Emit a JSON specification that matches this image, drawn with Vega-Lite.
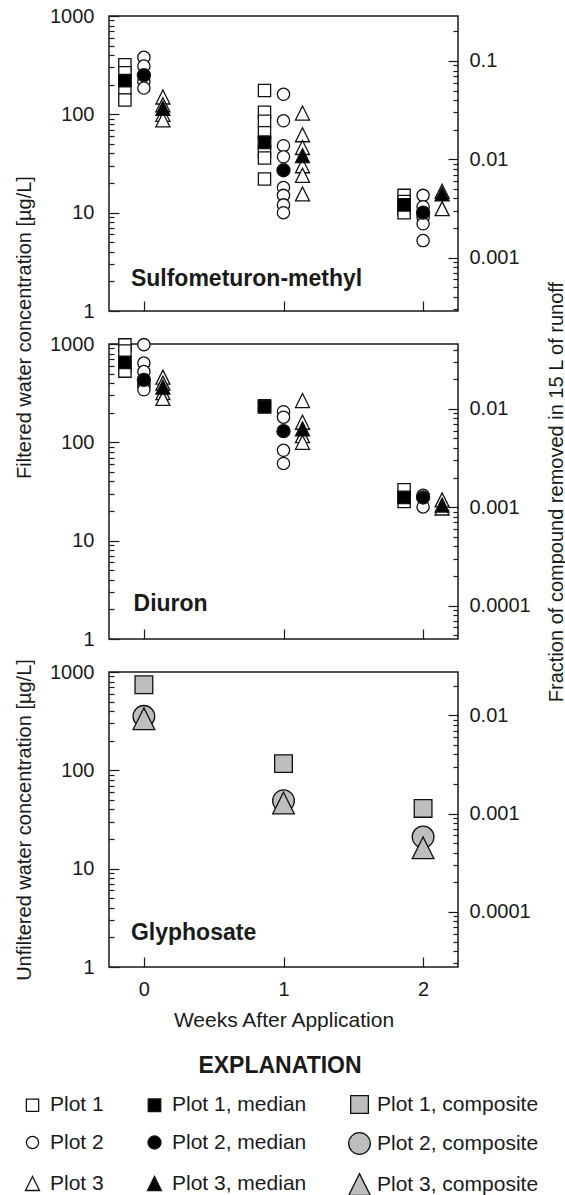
{
  "$schema": "https://vega.github.io/schema/vega-lite/v6.json",
  "autosize": {"type": "pad"},
  "padding": {"left": 13, "top": 5, "right": 0, "bottom": 0},
  "background": "white",
  "spacing": 33,
  "bounds": "flush",
  "datasets": {
    "pts": [
      {"compound": "S", "week": 0, "plot": "Plot 1", "series": "Plot 1", "conc": 320},
      {"compound": "S", "week": 0, "plot": "Plot 1", "series": "Plot 1", "conc": 265},
      {"compound": "S", "week": 0, "plot": "Plot 1", "series": "Plot 1", "conc": 185},
      {"compound": "S", "week": 0, "plot": "Plot 1", "series": "Plot 1", "conc": 140},
      {"compound": "S", "week": 0, "plot": "Plot 2", "series": "Plot 2", "conc": 380},
      {"compound": "S", "week": 0, "plot": "Plot 2", "series": "Plot 2", "conc": 310},
      {"compound": "S", "week": 0, "plot": "Plot 2", "series": "Plot 2", "conc": 215},
      {"compound": "S", "week": 0, "plot": "Plot 2", "series": "Plot 2", "conc": 185},
      {"compound": "S", "week": 0, "plot": "Plot 3", "series": "Plot 3", "conc": 150},
      {"compound": "S", "week": 0, "plot": "Plot 3", "series": "Plot 3", "conc": 125},
      {"compound": "S", "week": 0, "plot": "Plot 3", "series": "Plot 3", "conc": 100},
      {"compound": "S", "week": 0, "plot": "Plot 3", "series": "Plot 3", "conc": 88},
      {"compound": "S", "week": 1, "plot": "Plot 1", "series": "Plot 1", "conc": 175},
      {"compound": "S", "week": 1, "plot": "Plot 1", "series": "Plot 1", "conc": 105},
      {"compound": "S", "week": 1, "plot": "Plot 1", "series": "Plot 1", "conc": 85},
      {"compound": "S", "week": 1, "plot": "Plot 1", "series": "Plot 1", "conc": 65},
      {"compound": "S", "week": 1, "plot": "Plot 1", "series": "Plot 1", "conc": 42},
      {"compound": "S", "week": 1, "plot": "Plot 1", "series": "Plot 1", "conc": 36},
      {"compound": "S", "week": 1, "plot": "Plot 1", "series": "Plot 1", "conc": 22},
      {"compound": "S", "week": 1, "plot": "Plot 2", "series": "Plot 2", "conc": 160},
      {"compound": "S", "week": 1, "plot": "Plot 2", "series": "Plot 2", "conc": 86},
      {"compound": "S", "week": 1, "plot": "Plot 2", "series": "Plot 2", "conc": 48},
      {"compound": "S", "week": 1, "plot": "Plot 2", "series": "Plot 2", "conc": 37},
      {"compound": "S", "week": 1, "plot": "Plot 2", "series": "Plot 2", "conc": 18},
      {"compound": "S", "week": 1, "plot": "Plot 2", "series": "Plot 2", "conc": 15},
      {"compound": "S", "week": 1, "plot": "Plot 2", "series": "Plot 2", "conc": 12},
      {"compound": "S", "week": 1, "plot": "Plot 2", "series": "Plot 2", "conc": 10},
      {"compound": "S", "week": 1, "plot": "Plot 3", "series": "Plot 3", "conc": 103},
      {"compound": "S", "week": 1, "plot": "Plot 3", "series": "Plot 3", "conc": 62},
      {"compound": "S", "week": 1, "plot": "Plot 3", "series": "Plot 3", "conc": 46},
      {"compound": "S", "week": 1, "plot": "Plot 3", "series": "Plot 3", "conc": 30},
      {"compound": "S", "week": 1, "plot": "Plot 3", "series": "Plot 3", "conc": 24},
      {"compound": "S", "week": 1, "plot": "Plot 3", "series": "Plot 3", "conc": 15.5},
      {"compound": "S", "week": 2, "plot": "Plot 1", "series": "Plot 1", "conc": 15},
      {"compound": "S", "week": 2, "plot": "Plot 1", "series": "Plot 1", "conc": 13},
      {"compound": "S", "week": 2, "plot": "Plot 1", "series": "Plot 1", "conc": 11},
      {"compound": "S", "week": 2, "plot": "Plot 1", "series": "Plot 1", "conc": 10},
      {"compound": "S", "week": 2, "plot": "Plot 2", "series": "Plot 2", "conc": 15},
      {"compound": "S", "week": 2, "plot": "Plot 2", "series": "Plot 2", "conc": 11.5},
      {"compound": "S", "week": 2, "plot": "Plot 2", "series": "Plot 2", "conc": 9},
      {"compound": "S", "week": 2, "plot": "Plot 2", "series": "Plot 2", "conc": 7.7},
      {"compound": "S", "week": 2, "plot": "Plot 2", "series": "Plot 2", "conc": 5.2},
      {"compound": "S", "week": 2, "plot": "Plot 3", "series": "Plot 3", "conc": 16.5},
      {"compound": "S", "week": 2, "plot": "Plot 3", "series": "Plot 3", "conc": 11},
      {"compound": "S", "week": 0, "plot": "Plot 1", "series": "Plot 1, median", "conc": 220},
      {"compound": "S", "week": 0, "plot": "Plot 2", "series": "Plot 2, median", "conc": 250},
      {"compound": "S", "week": 0, "plot": "Plot 3", "series": "Plot 3, median", "conc": 115},
      {"compound": "S", "week": 1, "plot": "Plot 1", "series": "Plot 1, median", "conc": 52},
      {"compound": "S", "week": 1, "plot": "Plot 2", "series": "Plot 2, median", "conc": 27},
      {"compound": "S", "week": 1, "plot": "Plot 3", "series": "Plot 3, median", "conc": 38},
      {"compound": "S", "week": 2, "plot": "Plot 1", "series": "Plot 1, median", "conc": 12},
      {"compound": "S", "week": 2, "plot": "Plot 2", "series": "Plot 2, median", "conc": 10},
      {"compound": "S", "week": 2, "plot": "Plot 3", "series": "Plot 3, median", "conc": 15.5},
      {"compound": "D", "week": 0, "plot": "Plot 1", "series": "Plot 1", "conc": 980},
      {"compound": "D", "week": 0, "plot": "Plot 1", "series": "Plot 1", "conc": 850},
      {"compound": "D", "week": 0, "plot": "Plot 1", "series": "Plot 1", "conc": 590},
      {"compound": "D", "week": 0, "plot": "Plot 1", "series": "Plot 1", "conc": 530},
      {"compound": "D", "week": 0, "plot": "Plot 2", "series": "Plot 2", "conc": 985},
      {"compound": "D", "week": 0, "plot": "Plot 2", "series": "Plot 2", "conc": 640},
      {"compound": "D", "week": 0, "plot": "Plot 2", "series": "Plot 2", "conc": 525},
      {"compound": "D", "week": 0, "plot": "Plot 2", "series": "Plot 2", "conc": 390},
      {"compound": "D", "week": 0, "plot": "Plot 2", "series": "Plot 2", "conc": 369},
      {"compound": "D", "week": 0, "plot": "Plot 2", "series": "Plot 2", "conc": 342},
      {"compound": "D", "week": 0, "plot": "Plot 3", "series": "Plot 3", "conc": 460},
      {"compound": "D", "week": 0, "plot": "Plot 3", "series": "Plot 3", "conc": 400},
      {"compound": "D", "week": 0, "plot": "Plot 3", "series": "Plot 3", "conc": 320},
      {"compound": "D", "week": 0, "plot": "Plot 3", "series": "Plot 3", "conc": 280},
      {"compound": "D", "week": 1, "plot": "Plot 1", "series": "Plot 1", "conc": 235},
      {"compound": "D", "week": 1, "plot": "Plot 2", "series": "Plot 2", "conc": 205},
      {"compound": "D", "week": 1, "plot": "Plot 2", "series": "Plot 2", "conc": 180},
      {"compound": "D", "week": 1, "plot": "Plot 2", "series": "Plot 2", "conc": 83},
      {"compound": "D", "week": 1, "plot": "Plot 2", "series": "Plot 2", "conc": 61},
      {"compound": "D", "week": 1, "plot": "Plot 3", "series": "Plot 3", "conc": 266},
      {"compound": "D", "week": 1, "plot": "Plot 3", "series": "Plot 3", "conc": 160},
      {"compound": "D", "week": 1, "plot": "Plot 3", "series": "Plot 3", "conc": 117},
      {"compound": "D", "week": 1, "plot": "Plot 3", "series": "Plot 3", "conc": 100},
      {"compound": "D", "week": 2, "plot": "Plot 1", "series": "Plot 1", "conc": 33},
      {"compound": "D", "week": 2, "plot": "Plot 1", "series": "Plot 1", "conc": 25},
      {"compound": "D", "week": 2, "plot": "Plot 2", "series": "Plot 2", "conc": 29},
      {"compound": "D", "week": 2, "plot": "Plot 2", "series": "Plot 2", "conc": 22},
      {"compound": "D", "week": 2, "plot": "Plot 3", "series": "Plot 3", "conc": 26},
      {"compound": "D", "week": 2, "plot": "Plot 3", "series": "Plot 3", "conc": 21.5},
      {"compound": "D", "week": 0, "plot": "Plot 1", "series": "Plot 1, median", "conc": 650},
      {"compound": "D", "week": 0, "plot": "Plot 2", "series": "Plot 2, median", "conc": 432},
      {"compound": "D", "week": 0, "plot": "Plot 3", "series": "Plot 3, median", "conc": 364},
      {"compound": "D", "week": 1, "plot": "Plot 1", "series": "Plot 1, median", "conc": 229},
      {"compound": "D", "week": 1, "plot": "Plot 2", "series": "Plot 2, median", "conc": 130},
      {"compound": "D", "week": 1, "plot": "Plot 3", "series": "Plot 3, median", "conc": 137},
      {"compound": "D", "week": 2, "plot": "Plot 1", "series": "Plot 1, median", "conc": 27.5},
      {"compound": "D", "week": 2, "plot": "Plot 2", "series": "Plot 2, median", "conc": 27.5},
      {"compound": "D", "week": 2, "plot": "Plot 3", "series": "Plot 3, median", "conc": 23},
      {"compound": "G", "week": 0, "plot": "Plot 1", "series": "Plot 1, composite", "conc": 743},
      {"compound": "G", "week": 0, "plot": "Plot 2", "series": "Plot 2, composite", "conc": 354},
      {"compound": "G", "week": 0, "plot": "Plot 3", "series": "Plot 3, composite", "conc": 335},
      {"compound": "G", "week": 1, "plot": "Plot 1", "series": "Plot 1, composite", "conc": 117},
      {"compound": "G", "week": 1, "plot": "Plot 2", "series": "Plot 2, composite", "conc": 49},
      {"compound": "G", "week": 1, "plot": "Plot 3", "series": "Plot 3, composite", "conc": 46.4},
      {"compound": "G", "week": 2, "plot": "Plot 1", "series": "Plot 1, composite", "conc": 41},
      {"compound": "G", "week": 2, "plot": "Plot 2", "series": "Plot 2, composite", "conc": 21},
      {"compound": "G", "week": 2, "plot": "Plot 3", "series": "Plot 3, composite", "conc": 16.3}
    ]
  },
  "vconcat": [
    {
      "width": 349,
      "height": 295,
      "resolve": {"scale": {"y": "independent"}, "axis": {"y": "independent"}},
      "layer": [
        {
          "data": {"name": "pts"},
          "transform": [{"filter": "datum.compound === 'S'"}],
          "encoding": {
            "x": {"field": "week", "type": "quantitative", "scale": {"domain": [-0.25, 2.25], "nice": false, "zero": false},
                  "axis": {"values": [0, 1, 2], "labels": false, "tickSize": -10, "title": null}},
            "y": {"field": "conc", "type": "quantitative", "scale": {"type": "log", "domain": [1, 1000], "nice": false},
                  "axis": {"orient": "left", "values": [1,2,3,4,5,6,7,8,9,10,20,30,40,50,60,70,80,90,100,200,300,400,500,600,700,800,900,1000],
                           "format": "~g",
                           "labelExpr": "abs(log(datum.value)/LN10 - round(log(datum.value)/LN10)) < 0.01 ? datum.label : ''",
                           "tickSize": {"condition": {"test": "abs(log(datum.value)/LN10 - round(log(datum.value)/LN10)) < 0.01", "value": -10}, "value": -5},
                           "labelPadding": 25,
                           "title": "Filtered water concentration [µg/L]",
                           "titleX": -79, "titleY": 311, "titleAngle": -90, "titleBaseline": "alphabetic", "titleAlign": "center"}},
            "fill": {"field": "series", "type": "nominal", "title": "EXPLANATION",
                     "scale": {"domain": ["Plot 1", "Plot 2", "Plot 3", "Plot 1, median", "Plot 2, median", "Plot 3, median", "Plot 1, composite", "Plot 2, composite", "Plot 3, composite"],
                               "range": ["#ffffff", "#ffffff", "#ffffff", "#000000", "#000000", "#000000", "#bebec1", "#bebec1", "#bebec1"]},
                     "legend": {"orient": "none", "legendX": -88, "legendY": 1039, "columns": 3, "columnPadding": 39, "rowPadding": 14,
                                "labelFont": "Liberation Sans", "labelFontSize": 21, "labelColor": "#1a1a1a", "labelOffset": 6, "labelLimit": 400,
                                "titleFont": "Liberation Sans", "titleFontSize": 23, "titleFontWeight": "bold", "titleColor": "#1a1a1a",
                                "titleAnchor": "middle", "titlePadding": 16, "symbolStrokeColor": "#111111", "symbolStrokeWidth": 1.3, "symbolOpacity": 1, "gridAlign": "each",
                                "encode": {"symbols": {"update": {"size": {"signal": "indexof(datum.value, 'composite') >= 0 ? (indexof(datum.value, 'Plot 1') >= 0 ? 313 : 376) : (indexof(datum.value, 'median') >= 0 ? 121 : 82)"}}}}}},
            "shape": {"field": "series", "type": "nominal", "title": "EXPLANATION",
                      "scale": {"domain": ["Plot 1", "Plot 2", "Plot 3", "Plot 1, median", "Plot 2, median", "Plot 3, median", "Plot 1, composite", "Plot 2, composite", "Plot 3, composite"],
                                "range": ["square", "circle", "M0,-1L1,1L-1,1Z", "square", "circle", "M0,-1L1,1L-1,1Z", "square", "circle", "M0,-1L1,1L-1,1Z"]}},
            "size": {"field": "series", "type": "nominal", "title": "EXPLANATION",
                     "scale": {"type": "ordinal", "domain": ["Plot 1", "Plot 2", "Plot 3", "Plot 1, median", "Plot 2, median", "Plot 3, median", "Plot 1, composite", "Plot 2, composite", "Plot 3, composite"],
                               "range": [150, 150, 196, 156, 170, 196, 313, 470, 470]}}
          },
          "layer": [
            {"transform": [{"filter": "datum.plot === 'Plot 1'"}],
             "mark": {"type": "point", "filled": true, "opacity": 1, "stroke": "#111111", "strokeWidth": 1.3, "xOffset": -19}},
            {"transform": [{"filter": "datum.plot === 'Plot 2'"}],
             "mark": {"type": "point", "filled": true, "opacity": 1, "stroke": "#111111", "strokeWidth": 1.3}},
            {"transform": [{"filter": "datum.plot === 'Plot 3'"}],
             "mark": {"type": "point", "filled": true, "opacity": 1, "stroke": "#111111", "strokeWidth": 1.3, "xOffset": 19}}
          ]
        },
        {
          "data": {"values": [{}]},
          "mark": {"type": "text", "text": "Sulfometuron-methyl", "font": "Liberation Sans", "fontSize": 23, "fontWeight": "bold", "align": "left", "baseline": "alphabetic", "color": "#1a1a1a"},
          "encoding": {
            "x": {"datum": -0.093, "type": "quantitative", "scale": {"domain": [-0.25, 2.25], "nice": false, "zero": false}},
            "y": {"datum": 1.8, "type": "quantitative", "scale": {"type": "log", "domain": [1, 1000], "nice": false}, "axis": null}
          }
        },
        {
          "data": {"values": [{"f": 0.01}]},
          "mark": {"type": "point", "opacity": 0},
          "encoding": {
            "y": {"field": "f", "type": "quantitative", "scale": {"type": "log", "domain": [0.0002868, 0.2868], "nice": false},
                  "axis": {"orient": "right", "values": [0.0003,0.0004,0.0005,0.0006,0.0007,0.0008,0.0009,0.001,0.002,0.003,0.004,0.005,0.006,0.007,0.008,0.009,0.01,0.02,0.03,0.04,0.05,0.06,0.07,0.08,0.09,0.1,0.2],
                           "format": "~g",
                           "labelExpr": "abs(log(datum.value)/LN10 - round(log(datum.value)/LN10)) < 0.01 ? datum.label : ''",
                           "tickSize": {"condition": {"test": "abs(log(datum.value)/LN10 - round(log(datum.value)/LN10)) < 0.01", "value": -10}, "value": -5},
                           "labelPadding": 21, "title": null}}
          }
        }
      ]
    },
    {
      "width": 349,
      "height": 295,
      "resolve": {"scale": {"y": "independent"}, "axis": {"y": "independent"}},
      "layer": [
        {
          "data": {"name": "pts"},
          "transform": [{"filter": "datum.compound === 'D'"}],
          "encoding": {
            "x": {"field": "week", "type": "quantitative", "scale": {"domain": [-0.25, 2.25], "nice": false, "zero": false},
                  "axis": {"values": [0, 1, 2], "labels": false, "tickSize": -10, "title": null}},
            "y": {"field": "conc", "type": "quantitative", "scale": {"type": "log", "domain": [1, 1000], "nice": false},
                  "axis": {"orient": "left", "values": [1,2,3,4,5,6,7,8,9,10,20,30,40,50,60,70,80,90,100,200,300,400,500,600,700,800,900,1000],
                           "format": "~g",
                           "labelExpr": "abs(log(datum.value)/LN10 - round(log(datum.value)/LN10)) < 0.01 ? datum.label : ''",
                           "tickSize": {"condition": {"test": "abs(log(datum.value)/LN10 - round(log(datum.value)/LN10)) < 0.01", "value": -10}, "value": -5},
                           "labelPadding": 25, "title": null}},
            "fill": {"field": "series", "type": "nominal", "title": "EXPLANATION",
                     "scale": {"domain": ["Plot 1", "Plot 2", "Plot 3", "Plot 1, median", "Plot 2, median", "Plot 3, median", "Plot 1, composite", "Plot 2, composite", "Plot 3, composite"],
                               "range": ["#ffffff", "#ffffff", "#ffffff", "#000000", "#000000", "#000000", "#bebec1", "#bebec1", "#bebec1"]}},
            "shape": {"field": "series", "type": "nominal", "title": "EXPLANATION",
                      "scale": {"domain": ["Plot 1", "Plot 2", "Plot 3", "Plot 1, median", "Plot 2, median", "Plot 3, median", "Plot 1, composite", "Plot 2, composite", "Plot 3, composite"],
                                "range": ["square", "circle", "M0,-1L1,1L-1,1Z", "square", "circle", "M0,-1L1,1L-1,1Z", "square", "circle", "M0,-1L1,1L-1,1Z"]}},
            "size": {"field": "series", "type": "nominal", "title": "EXPLANATION",
                     "scale": {"type": "ordinal", "domain": ["Plot 1", "Plot 2", "Plot 3", "Plot 1, median", "Plot 2, median", "Plot 3, median", "Plot 1, composite", "Plot 2, composite", "Plot 3, composite"],
                               "range": [150, 150, 196, 156, 170, 196, 313, 470, 470]}}
          },
          "layer": [
            {"transform": [{"filter": "datum.plot === 'Plot 1'"}],
             "mark": {"type": "point", "filled": true, "opacity": 1, "stroke": "#111111", "strokeWidth": 1.3, "xOffset": -19}},
            {"transform": [{"filter": "datum.plot === 'Plot 2'"}],
             "mark": {"type": "point", "filled": true, "opacity": 1, "stroke": "#111111", "strokeWidth": 1.3}},
            {"transform": [{"filter": "datum.plot === 'Plot 3'"}],
             "mark": {"type": "point", "filled": true, "opacity": 1, "stroke": "#111111", "strokeWidth": 1.3, "xOffset": 19}}
          ]
        },
        {
          "data": {"values": [{}]},
          "mark": {"type": "text", "text": "Diuron", "font": "Liberation Sans", "fontSize": 23, "fontWeight": "bold", "align": "left", "baseline": "alphabetic", "color": "#1a1a1a"},
          "encoding": {
            "x": {"datum": -0.074, "type": "quantitative", "scale": {"domain": [-0.25, 2.25], "nice": false, "zero": false}},
            "y": {"datum": 1.93, "type": "quantitative", "scale": {"type": "log", "domain": [1, 1000], "nice": false}, "axis": null}
          }
        },
        {
          "data": {"values": [{"f": 0.01}]},
          "mark": {"type": "point", "opacity": 0},
          "encoding": {
            "y": {"field": "f", "type": "quantitative", "scale": {"type": "log", "domain": [0.00004566, 0.04566], "nice": false},
                  "axis": {"orient": "right", "values": [0.00005,0.00006,0.00007,0.00008,0.00009,0.0001,0.0002,0.0003,0.0004,0.0005,0.0006,0.0007,0.0008,0.0009,0.001,0.002,0.003,0.004,0.005,0.006,0.007,0.008,0.009,0.01,0.02,0.03,0.04],
                           "format": "~g",
                           "labelExpr": "abs(log(datum.value)/LN10 - round(log(datum.value)/LN10)) < 0.01 ? datum.label : ''",
                           "tickSize": {"condition": {"test": "abs(log(datum.value)/LN10 - round(log(datum.value)/LN10)) < 0.01", "value": -10}, "value": -5},
                           "labelPadding": 21,
                           "title": "Fraction of compound removed in 15 L of runoff",
                           "titleX": 104, "titleAngle": -90, "titleBaseline": "alphabetic", "titleAlign": "center"}}
          }
        }
      ]
    },
    {
      "width": 349,
      "height": 295,
      "resolve": {"scale": {"y": "independent"}, "axis": {"y": "independent"}},
      "layer": [
        {
          "data": {"name": "pts"},
          "transform": [{"filter": "datum.compound === 'G'"}],
          "mark": {"type": "point", "filled": true, "opacity": 1, "stroke": "#111111", "strokeWidth": 1.3},
          "encoding": {
            "x": {"field": "week", "type": "quantitative", "scale": {"domain": [-0.25, 2.25], "nice": false, "zero": false},
                  "axis": {"values": [0, 1, 2], "format": "d", "tickSize": -10, "labelPadding": 22, "title": "Weeks After Application", "titlePadding": 10, "titleFontSize": 21}},
            "y": {"field": "conc", "type": "quantitative", "scale": {"type": "log", "domain": [1, 1000], "nice": false},
                  "axis": {"orient": "left", "values": [1,2,3,4,5,6,7,8,9,10,20,30,40,50,60,70,80,90,100,200,300,400,500,600,700,800,900,1000],
                           "format": "~g",
                           "labelExpr": "abs(log(datum.value)/LN10 - round(log(datum.value)/LN10)) < 0.01 ? datum.label : ''",
                           "tickSize": {"condition": {"test": "abs(log(datum.value)/LN10 - round(log(datum.value)/LN10)) < 0.01", "value": -10}, "value": -5},
                           "labelPadding": 25,
                           "title": "Unfiltered water concentration [µg/L]",
                           "titleX": -79, "titleAngle": -90, "titleBaseline": "alphabetic", "titleAlign": "center"}},
            "fill": {"field": "series", "type": "nominal", "title": "EXPLANATION",
                     "scale": {"domain": ["Plot 1", "Plot 2", "Plot 3", "Plot 1, median", "Plot 2, median", "Plot 3, median", "Plot 1, composite", "Plot 2, composite", "Plot 3, composite"],
                               "range": ["#ffffff", "#ffffff", "#ffffff", "#000000", "#000000", "#000000", "#bebec1", "#bebec1", "#bebec1"]}},
            "shape": {"field": "series", "type": "nominal", "title": "EXPLANATION",
                      "scale": {"domain": ["Plot 1", "Plot 2", "Plot 3", "Plot 1, median", "Plot 2, median", "Plot 3, median", "Plot 1, composite", "Plot 2, composite", "Plot 3, composite"],
                                "range": ["square", "circle", "M0,-1L1,1L-1,1Z", "square", "circle", "M0,-1L1,1L-1,1Z", "square", "circle", "M0,-1L1,1L-1,1Z"]}},
            "size": {"field": "series", "type": "nominal", "title": "EXPLANATION",
                     "scale": {"type": "ordinal", "domain": ["Plot 1", "Plot 2", "Plot 3", "Plot 1, median", "Plot 2, median", "Plot 3, median", "Plot 1, composite", "Plot 2, composite", "Plot 3, composite"],
                               "range": [150, 150, 196, 156, 170, 196, 313, 470, 470]}}
          }
        },
        {
          "data": {"values": [{}]},
          "mark": {"type": "text", "text": "Glyphosate", "font": "Liberation Sans", "fontSize": 23, "fontWeight": "bold", "align": "left", "baseline": "alphabetic", "color": "#1a1a1a"},
          "encoding": {
            "x": {"datum": -0.093, "type": "quantitative", "scale": {"domain": [-0.25, 2.25], "nice": false, "zero": false}},
            "y": {"datum": 1.9, "type": "quantitative", "scale": {"type": "log", "domain": [1, 1000], "nice": false}, "axis": null}
          }
        },
        {
          "data": {"values": [{"f": 0.01}]},
          "mark": {"type": "point", "opacity": 0},
          "encoding": {
            "y": {"field": "f", "type": "quantitative", "scale": {"type": "log", "domain": [0.00002756, 0.02756], "nice": false},
                  "axis": {"orient": "right", "values": [0.00003,0.00004,0.00005,0.00006,0.00007,0.00008,0.00009,0.0001,0.0002,0.0003,0.0004,0.0005,0.0006,0.0007,0.0008,0.0009,0.001,0.002,0.003,0.004,0.005,0.006,0.007,0.008,0.009,0.01,0.02],
                           "format": "~g",
                           "labelExpr": "abs(log(datum.value)/LN10 - round(log(datum.value)/LN10)) < 0.01 ? datum.label : ''",
                           "tickSize": {"condition": {"test": "abs(log(datum.value)/LN10 - round(log(datum.value)/LN10)) < 0.01", "value": -10}, "value": -5},
                           "labelPadding": 21, "title": null}}
          }
        }
      ]
    }
  ],
  "config": {
    "view": {"stroke": "#1a1a1a", "strokeWidth": 1.5},
    "axis": {
      "domain": false, "grid": false,
      "labelFont": "Liberation Sans", "labelFontSize": 20, "labelColor": "#1a1a1a",
      "titleFont": "Liberation Sans", "titleFontSize": 20, "titleFontWeight": "normal", "titleColor": "#1a1a1a",
      "tickColor": "#1a1a1a", "tickWidth": 1.2,
      "labelOverlap": false, "labelFlush": false, "labelBound": false
    }
  }
}
